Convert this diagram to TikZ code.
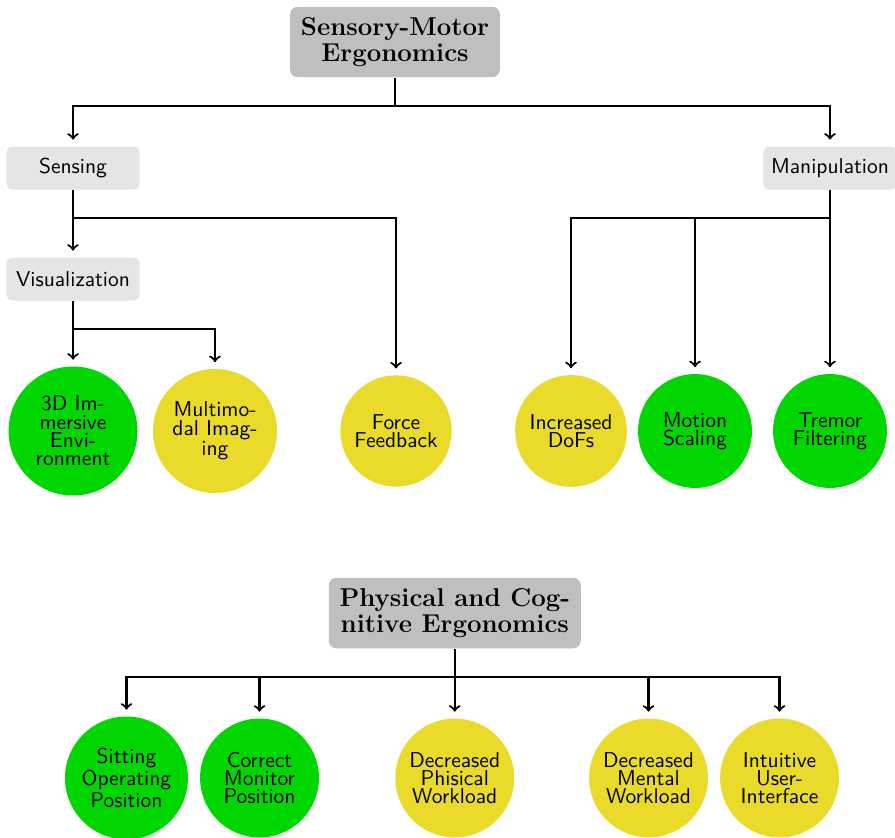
\documentclass[tikz,border=0pt]{standalone}
\usetikzlibrary{positioning}
\definecolor{leafgreen}{RGB}{0,214,0}
\definecolor{leafyellow}{RGB}{234,218,42}
\tikzset{
  rootbox/.style={fill=gray!50, rounded corners=3.5pt, align=center, inner sep=5pt,
    font=\fontsize{12}{12}\selectfont\bfseries},
  subbox/.style={fill=gray!20, rounded corners=3pt, font=\sffamily,
    minimum width=62pt, minimum height=20pt},
  leaf/.style={circle, align=center, text width=46pt, inner sep=0pt,
    font=\sffamily\fontsize{10}{8.5}\selectfont},
  greenleaf/.style={leaf, fill=leafgreen},
  yellowleaf/.style={leaf, fill=leafyellow},
  stem/.style={line width=1pt},
  link/.style={line width=1pt, ->, shorten >=3pt},
}
\begin{document}
\begin{tikzpicture}
  \useasboundingbox (0,0) rectangle (14.633,13.685);
  % sensory-motor ergonomics
  \node[rootbox] (smroot) at (6.458,12.998) {Sensory-Motor\\Ergonomics};
  \node[subbox] (sensing) at (1.194,10.938) {Sensing};
  \node[subbox] (manip) at (13.57,10.938) {Manipulation};
  \node[subbox] (visual) at (1.194,9.123) {Visualization};
  \node[greenleaf, minimum size=60pt] (immersive) at (1.194,6.638) {3D Im-\\mersive\\Envi-\\ronment};
  \node[yellowleaf, minimum size=57.7pt] (multimodal) at (3.515,6.638) {Multimo-\\dal Imag-\\ing};
  \node[yellowleaf, minimum size=51.8pt] (force) at (6.475,6.638) {Force\\Feedback};
  \node[yellowleaf, minimum size=52pt] (dofs) at (9.336,6.638) {Increased\\DoFs};
  \node[greenleaf, minimum size=53pt] (motion) at (11.363,6.638) {Motion\\Scaling};
  \node[greenleaf, minimum size=53pt] (tremor) at (13.57,6.638) {Tremor\\Filtering};
  \draw[stem] (smroot.south) -- ++(0,-0.458) coordinate (smfork);
  \draw[link] (smfork) -| (sensing.north);
  \draw[link] (smfork) -| (manip.north);
  \draw[stem] (sensing.south) -- ++(0,-0.458) coordinate (sensfork);
  \draw[link] (sensfork) -- (visual.north);
  \draw[link] (sensfork) -| (force.north);
  \draw[stem] (visual.south) -- ++(0,-0.458) coordinate (visfork);
  \draw[link] (visfork) -- (immersive.north);
  \draw[link] (visfork) -| (multimodal.north);
  \draw[stem] (manip.south) -- ++(0,-0.458) coordinate (manfork);
  \draw[link] (manfork) -| (dofs.north);
  \draw[link] (manfork) -| (motion.north);
  \draw[link] (manfork) -- (tremor.north);
  % physical and cognitive ergonomics
  \node[rootbox] (pcroot) at (7.435,3.662) {Physical and Cog-\\nitive Ergonomics};
  \node[greenleaf, minimum size=57.2pt] (sitting) at (2.068,0.965) {Sitting\\Operating\\Position};
  \node[greenleaf, minimum size=55.3pt] (monitor) at (4.243,0.965) {Correct\\Monitor\\Position};
  \node[yellowleaf, minimum size=55.3pt] (phisical) at (7.435,0.965) {Decreased\\Phisical\\Workload};
  \node[yellowleaf, minimum size=55.3pt] (mental) at (10.603,0.965) {Decreased\\Mental\\Workload};
  \node[yellowleaf, minimum size=55.3pt] (interface) at (12.745,0.965) {Intuitive\\User-\\Interface};
  \draw[stem] (pcroot.south) -- ++(0,-0.458) coordinate (pcfork);
  \draw[link] (pcfork) -| (sitting.north);
  \draw[link] (pcfork) -| (monitor.north);
  \draw[link] (pcfork) -- (phisical.north);
  \draw[link] (pcfork) -| (mental.north);
  \draw[link] (pcfork) -| (interface.north);
\end{tikzpicture}
\end{document}
